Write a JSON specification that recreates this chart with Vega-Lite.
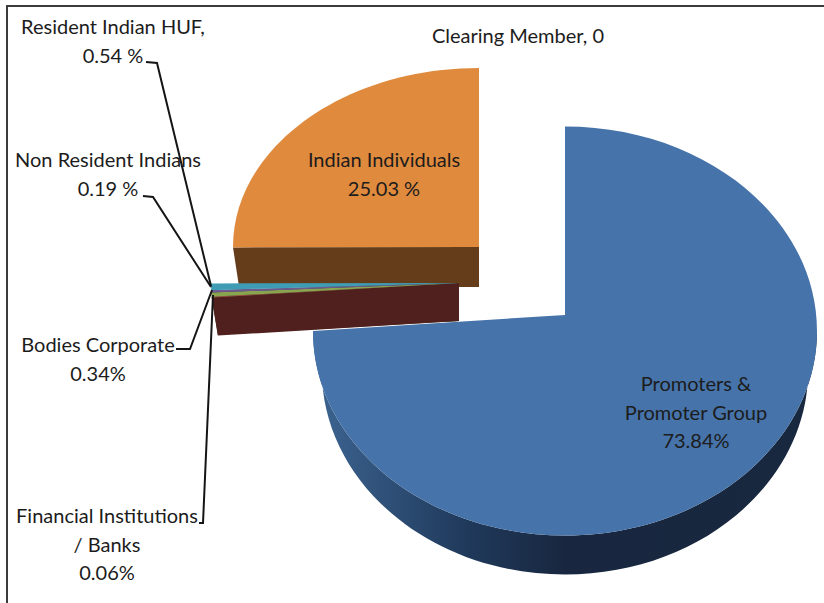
{
"$schema":"https://vega.github.io/schema/vega-lite/v6.json",
"width":824,"height":603,"padding":0,"autosize":{"type":"none"},"background":"white",
"config":{"view":{"stroke":null}},
"data":{"values":[
{"slice":"Promoters & Promoter Group","share":73.84,"rank":1,"label":"Promoters &\nPromoter Group\n73.84%"},
{"slice":"Financial Institutions / Banks","share":0.06,"rank":2,"label":"Financial Institutions\n/ Banks\n0.06%"},
{"slice":"Bodies Corporate","share":0.34,"rank":3,"label":"Bodies Corporate\n0.34%"},
{"slice":"Non Resident Indians","share":0.19,"rank":4,"label":"Non Resident Indians\n0.19 %"},
{"slice":"Resident Indian HUF","share":0.54,"rank":5,"label":"Resident Indian HUF,\n0.54 %"},
{"slice":"Indian Individuals","share":25.03,"rank":6,"label":"Indian Individuals\n25.03 %"},
{"slice":"Clearing Member","share":0,"rank":7,"label":"Clearing Member, 0"}
]},
"transform":[
{"stack":"share","sort":[{"field":"rank","order":"ascending"}],"as":["s0","s1"]},
{"calculate":"datum.s0/100*2*PI","as":"a0"},
{"calculate":"datum.s1/100*2*PI*(datum.rank==1?1.0158:1)","as":"a1"},
{"calculate":"datum.rank==1?565:datum.rank==6?479:459","as":"cx"},
{"calculate":"datum.rank==1?315:datum.rank==6?247:283","as":"cy"},
{"calculate":"datum.rank==1?16:0","as":"ey"},
{"calculate":"datum.rank==1?252:datum.rank==6?246:248","as":"rx"},
{"calculate":"datum.rank==1?204.5:datum.rank==6?179:190","as":"ryT"},
{"calculate":"datum.rank==1?204.5:200","as":"ryB"},
{"calculate":"datum.rank==1?39:datum.rank==6?40:38","as":"dep"},
{"calculate":"round(datum.rx*sin(datum.a0)*100)/100","as":"x0"},
{"calculate":"round((datum.ey-(cos(datum.a0)>=0?datum.ryT:datum.ryB)*cos(datum.a0))*100)/100","as":"y0"},
{"calculate":"round(datum.rx*sin(datum.a1)*100)/100","as":"x1"},
{"calculate":"round((datum.ey-(cos(datum.a1)>=0?datum.ryT:datum.ryB)*cos(datum.a1))*100)/100","as":"y1"},
{"calculate":"datum.a1<1.5*PI?datum.x1:-datum.rx","as":"xe"},
{"calculate":"datum.a1<1.5*PI?datum.y1:datum.ey","as":"ye"},
{"calculate":"'M0,0L'+datum.x0+','+datum.y0+(datum.a0<PI/2?'A'+datum.rx+','+datum.ryT+' 0 0 1 '+datum.rx+','+datum.ey:'')+((datum.a0<1.5*PI&&datum.a1>PI/2)?'A'+datum.rx+','+datum.ryB+' 0 0 1 '+datum.xe+','+datum.ye:'')+(datum.a1>1.5*PI?'A'+datum.rx+','+datum.ryT+' 0 0 1 '+datum.x1+','+datum.y1:'')+'Z'","as":"topPath"},
{"calculate":"datum.a0>PI?'M0,0L'+datum.x0+','+datum.y0+'L'+(datum.x0*0.975)+','+(datum.y0+datum.dep)+'L0,'+datum.dep+'Z':'M'+datum.rx+','+datum.ey+'A'+datum.rx+','+datum.ryB+' 0 0 1 '+datum.xe+','+datum.ye+'L'+(datum.xe*0.965)+','+(datum.ye+datum.dep)+'A'+(datum.rx*0.965)+','+datum.ryB+' 0 0 0 '+(datum.rx*0.965)+','+(datum.ey+datum.dep)+'Z'","as":"sidePath"},
{"calculate":"datum.rank==1?696:datum.rank==2?107:datum.rank==3?98:datum.rank==4?108:datum.rank==5?113:datum.rank==6?384:518","as":"lx"},
{"calculate":"datum.rank==1?385:datum.rank==2?517:datum.rank==3?346:datum.rank==4?161:datum.rank==5?28:datum.rank==6?161:37","as":"ly"},
{"calculate":"datum.rank==2?'M199,523L203,523L213,295':datum.rank==3?'M176,349L190,349L212,290':datum.rank==4?'M143,196L153,197L211,287':datum.rank==5?'M146,62L157,63L211,286':''","as":"leader"}
],
"resolve":{"scale":{"color":"independent"}},
"layer":[
{"transform":[{"filter":"datum.share>0&&datum.rank>1"}],
 "mark":{"type":"point","filled":true,"size":4,"opacity":1,"strokeWidth":0},
 "encoding":{
  "x":{"field":"cx","type":"quantitative","scale":null},
  "y":{"field":"cy","type":"quantitative","scale":null},
  "order":{"field":"rank","sort":"descending"},
  "shape":{"field":"sidePath","type":"nominal","scale":null},
  "color":{"field":"slice","type":"nominal","legend":null,"scale":{"domain":["Financial Institutions / Banks","Bodies Corporate","Non Resident Indians","Resident Indian HUF","Indian Individuals"],"range":["#50201f","#4a5a2c","#3e3050","#245a68","#653d1a"]}}
 }},
{"transform":[{"filter":"datum.rank==1"}],
 "mark":{"type":"point","filled":true,"size":4,"opacity":1,"strokeWidth":0,
  "fill":{"gradient":"linear","x1":0,"x2":1,"y1":0,"y2":0,"stops":[{"offset":0,"color":"#3d6592"},{"offset":0.3,"color":"#203a5c"},{"offset":0.5,"color":"#18273f"},{"offset":1,"color":"#18283f"}]}},
 "encoding":{
  "x":{"field":"cx","type":"quantitative","scale":null},
  "y":{"field":"cy","type":"quantitative","scale":null},
  "shape":{"field":"sidePath","type":"nominal","scale":null}
 }},
{"transform":[{"filter":"datum.share>0"}],
 "mark":{"type":"point","filled":true,"size":4,"opacity":1,"strokeWidth":0},
 "encoding":{
  "x":{"field":"cx","type":"quantitative","scale":null},
  "y":{"field":"cy","type":"quantitative","scale":null},
  "shape":{"field":"topPath","type":"nominal","scale":null},
  "color":{"field":"slice","type":"nominal","legend":null,"scale":{"domain":["Promoters & Promoter Group","Financial Institutions / Banks","Bodies Corporate","Non Resident Indians","Resident Indian HUF","Indian Individuals"],"range":["#4673a9","#aa4643","#89a54e","#71588f","#3f9cb5","#e08a3e"]}}
 }},
{"transform":[{"filter":"datum.leader!=''"}],
 "mark":{"type":"point","filled":false,"size":4,"opacity":1,"stroke":"#151515","strokeWidth":2,"fill":null},
 "encoding":{
  "x":{"value":0},"y":{"value":0},
  "shape":{"field":"leader","type":"nominal","scale":null}
 }},
{"transform":[{"filter":"datum.rank==1"}],
 "mark":{"type":"point","filled":false,"size":4,"opacity":1,"stroke":"#3c3c3c","strokeWidth":2,"fill":null},
 "encoding":{"x":{"value":0},"y":{"value":0},"shape":{"value":"M7,603L7,6L824,6"}}},
{"mark":{"type":"text","font":"Lato","fontSize":20,"lineBreak":"\n","lineHeight":28.5,"align":"center","baseline":"middle","color":"#1c1c1c"},
 "encoding":{
  "x":{"field":"lx","type":"quantitative","scale":null},
  "y":{"field":"ly","type":"quantitative","scale":null},
  "text":{"field":"label","type":"nominal"}
 }}
]
}
